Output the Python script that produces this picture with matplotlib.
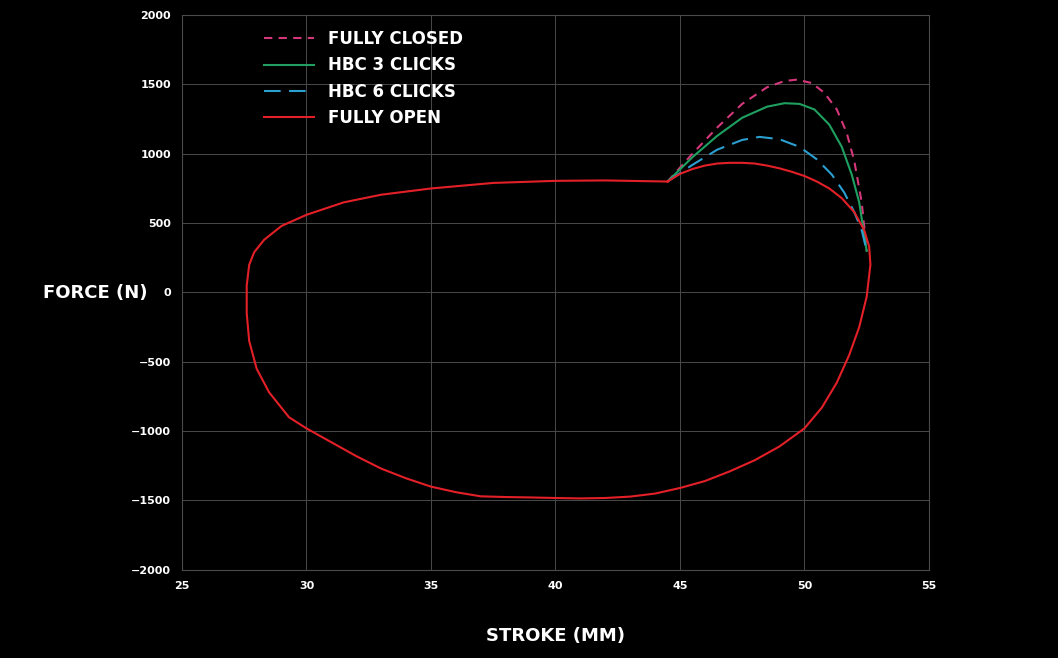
import matplotlib
matplotlib.use("Agg")
import matplotlib.pyplot as plt
import numpy as np

open_x = [44.5,42,40,37.5,35,33,31.5,30,29,28.3,27.9,27.7,27.6,27.6,27.7,28.0,28.5,29.3,30,31,32,33,34,35,36,37,38,39,40,41,42,43,44,45,46,47,48,49,50,50.7,51.3,51.8,52.2,52.5,52.65,52.6,52.4,52.0,51.5,51.0,50.5,50.0,49.5,49.0,48.5,48.0,47.5,47.0,46.5,46.0,45.5,45.0,44.5]
open_y = [800,808,805,790,750,705,650,560,480,380,290,200,50,-150,-350,-550,-720,-900,-980,-1080,-1180,-1270,-1340,-1400,-1440,-1470,-1475,-1478,-1482,-1485,-1482,-1472,-1450,-1410,-1360,-1290,-1210,-1110,-980,-830,-650,-450,-250,-30,200,330,450,580,680,750,800,840,870,895,915,930,935,935,930,915,890,855,800]
closed_x = [44.5,45.5,46.5,47.5,48.5,49.2,49.7,50.3,50.8,51.3,51.7,52.0,52.3,52.5]
closed_y = [800,1000,1190,1360,1480,1525,1535,1510,1440,1320,1150,950,650,300]
hbc3_x = [44.5,45.5,46.5,47.5,48.5,49.2,49.8,50.4,51.0,51.5,51.9,52.2,52.5]
hbc3_y = [800,975,1130,1260,1340,1365,1360,1320,1210,1050,850,650,300]
hbc6_x = [44.5,45.5,46.5,47.5,48.2,49.0,49.8,50.5,51.1,51.6,52.0,52.3,52.5]
hbc6_y = [800,920,1030,1100,1122,1105,1050,960,850,720,580,450,300]
xticks = [25,30,35,40,45,50,55]
yticks = [-2000,-1500,-1000,-500,0,500,1000,1500,2000]

plt.rcParams['font.family'] = ['DejaVu Sans']
fig = plt.figure(figsize=(10.58,6.58), dpi=100, facecolor='black')
ax = fig.add_axes([0.172,0.134,0.706,0.843], facecolor='black')
ax.plot(closed_x, closed_y, color='#d4387a', lw=1.5, ls=(0,(4,3)), label='FULLY CLOSED')
ax.plot(hbc3_x, hbc3_y, color='#1fa060', lw=1.5, label='HBC 3 CLICKS')
ax.plot(hbc6_x, hbc6_y, color='#2a9fd0', lw=1.5, ls=(0,(8,4)), label='HBC 6 CLICKS')
ax.plot(open_x, open_y, color='#e32028', lw=1.5, label='FULLY OPEN')
ax.set_xlim(25,55); ax.set_ylim(-2000,2000)
ax.set_xticks(xticks); ax.set_yticks(yticks)
ax.grid(color='#4a4a4a', lw=0.7)
for s in ax.spines.values():
    s.set_color('#4a4a4a')
ax.tick_params(colors='white', labelsize=8, length=0, pad=8)
for t in ax.get_xticklabels()+ax.get_yticklabels():
    t.set_fontweight('bold')
fig.text(0.09, 0.555, 'FORCE (N)', color='white', fontsize=13, fontweight='bold', ha='center', va='center')
fig.text(0.525, 0.033, 'STROKE (MM)', color='white', fontsize=13, fontweight='bold', ha='center', va='center')
leg = ax.legend(loc='upper left', bbox_to_anchor=(0.09,1.0), frameon=False, labelcolor='white', handlelength=3, labelspacing=0.5,
                prop={'weight':'bold','size':12})
fig.savefig('out.png', facecolor='black')
